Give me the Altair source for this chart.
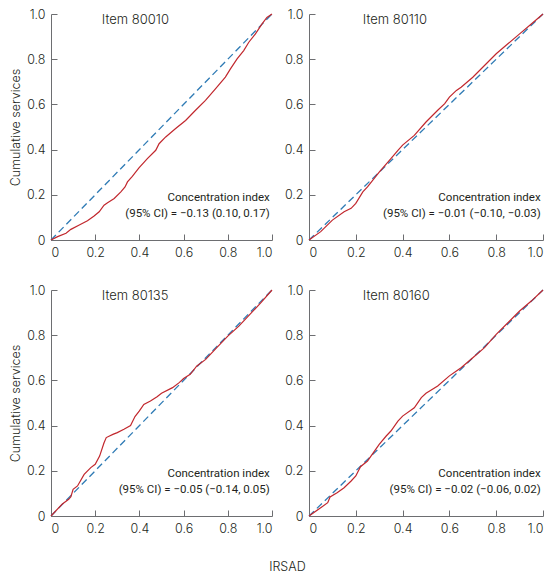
import altair as alt
import pandas as pd

# ---------------- data ----------------
TICKS = [0, 0.2, 0.4, 0.6, 0.8, 1.0]

x_80010 = [0, 0.03, 0.068, 0.09, 0.128, 0.165, 0.195, 0.218, 0.24, 0.256, 0.286, 0.316,
           0.335, 0.346, 0.368, 0.398, 0.436, 0.474, 0.489, 0.519, 0.564, 0.609, 0.654,
           0.699, 0.744, 0.789, 0.812, 0.842, 0.872, 0.895, 0.925, 0.955, 0.977, 1.0]
y_80010 = [0, 0.015, 0.03, 0.047, 0.066, 0.085, 0.106, 0.125, 0.154, 0.165, 0.184, 0.213,
           0.235, 0.257, 0.282, 0.319, 0.36, 0.397, 0.426, 0.456, 0.493, 0.529, 0.574,
           0.618, 0.669, 0.721, 0.757, 0.801, 0.838, 0.875, 0.912, 0.956, 0.985, 1.0]

x_80110 = [0, 0.05, 0.1, 0.15, 0.18, 0.2, 0.23, 0.25, 0.3, 0.35, 0.38, 0.4, 0.45, 0.5,
           0.55, 0.58, 0.6, 0.63, 0.65, 0.7, 0.75, 0.8, 0.85, 0.9, 0.95, 1.0]
y_80110 = [0, 0.037, 0.088, 0.125, 0.14, 0.162, 0.213, 0.235, 0.30, 0.36, 0.397, 0.42,
           0.463, 0.522, 0.574, 0.603, 0.632, 0.662, 0.676, 0.72, 0.772, 0.824, 0.868,
           0.912, 0.956, 1.0]

x_80135 = [0, 0.05, 0.08, 0.09, 0.1, 0.12, 0.15, 0.18, 0.2, 0.22, 0.24, 0.25, 0.28, 0.3,
           0.33, 0.36, 0.38, 0.4, 0.42, 0.45, 0.48, 0.5, 0.55, 0.58, 0.6, 0.63, 0.66,
           0.7, 0.75, 0.8, 0.85, 0.9, 0.95, 1.0]
y_80135 = [0, 0.052, 0.074, 0.085, 0.118, 0.133, 0.184, 0.214, 0.229, 0.265, 0.324,
           0.347, 0.361, 0.369, 0.384, 0.40, 0.44, 0.465, 0.494, 0.509, 0.528, 0.543,
           0.568, 0.59, 0.608, 0.627, 0.664, 0.693, 0.745, 0.796, 0.84, 0.892, 0.944, 1.0]

x_80160 = [0, 0.05, 0.08, 0.09, 0.12, 0.15, 0.18, 0.2, 0.22, 0.25, 0.27, 0.3, 0.33, 0.35,
           0.38, 0.4, 0.45, 0.48, 0.5, 0.55, 0.6, 0.63, 0.65, 0.7, 0.75, 0.8, 0.85, 0.9,
           0.95, 1.0]
y_80160 = [0, 0.037, 0.059, 0.084, 0.103, 0.125, 0.155, 0.177, 0.218, 0.243, 0.273,
           0.317, 0.354, 0.376, 0.42, 0.442, 0.479, 0.524, 0.543, 0.575, 0.62, 0.642,
           0.656, 0.70, 0.745, 0.804, 0.855, 0.907, 0.951, 1.0]

items = ["Item 80010", "Item 80110", "Item 80135", "Item 80160"]
ci_texts = ["(95% CI) = \u22120.13 (0.10, 0.17)",
            "(95% CI) = \u22120.01 (\u22120.10, \u22120.03)",
            "(95% CI) = \u22120.05 (\u22120.14, 0.05)",
            "(95% CI) = \u22120.02 (\u22120.06, 0.02)"]
ci_head = "Concentration index"
diag_x = [0, 1]
diag_y = [0, 1]

# ---------------- style ----------------
RED = "#c1272d"
BLUE = "#2f7bb5"
AX = "#6d6e71"
TXT = "#231f20"
FONT = "Inter"
NARROW = "Liberation Sans Narrow, Roboto, sans-serif"
LABEL_EXPR = "datum.value == 0 ? '0' : format(datum.value, '.1f')"


def label_axis(orient, title=None):
    kw = dict(values=TICKS, labelExpr=LABEL_EXPR, ticks=False, domain=True,
              domainColor=AX, domainWidth=1, grid=False, labelFont=FONT,
              labelFontSize=12.5, labelFontWeight=300, labelColor=TXT, labelPadding=6,
              orient=orient, title=title)
    if title:
        kw.update(titleFont=FONT, titleFontSize=12.5, titleFontWeight=300,
                  titleColor=TXT, titlePadding=4)
    return alt.Axis(**kw)


def tick_axis(orient):
    return alt.Axis(values=TICKS, labels=False, domain=False, grid=False, ticks=True,
                    tickSize=6, tickColor=AX, tickWidth=1, offset=-6, orient=orient,
                    title=None)


def panel(i, xs, ys, w, h, ytitle):
    sc = alt.Scale(domain=[0, 1], nice=False)
    cur = pd.DataFrame({"x": xs, "y": ys})
    dg = pd.DataFrame({"x": diag_x, "y": diag_y})
    diag = alt.Chart(dg).mark_line(color=BLUE, strokeWidth=1.3, strokeDash=[7, 4]).encode(
        x=alt.X("x:Q", scale=sc, axis=label_axis("bottom")),
        y=alt.Y("y:Q", scale=sc, axis=label_axis("left", ytitle)),
    )
    curve = alt.Chart(cur).mark_line(color=RED, strokeWidth=1.2).encode(
        x=alt.X("x:Q", scale=sc, axis=tick_axis("bottom")),
        y=alt.Y("y:Q", scale=sc, axis=tick_axis("left")),
    )
    lab = pd.DataFrame({"x": [0.23], "y": [0.975], "t": [items[i]]})
    item = alt.Chart(lab).mark_text(align="left", baseline="middle", font=FONT,
                                    fontSize=13, fontWeight=300, color=TXT).encode(
        x=alt.X("x:Q", scale=sc, axis=None), y=alt.Y("y:Q", scale=sc, axis=None), text="t:N")
    ann = pd.DataFrame({"x": [0.99, 0.99], "y": [0.185, 0.115], "t": [ci_head, ci_texts[i]]})
    note = alt.Chart(ann).mark_text(align="right", baseline="middle", font=NARROW,
                                    fontSize=11.5, color=TXT).encode(
        x=alt.X("x:Q", scale=sc, axis=None), y=alt.Y("y:Q", scale=sc, axis=None), text="t:N")
    return alt.layer(diag, curve, item, note).resolve_axis(
        x="independent", y="independent").properties(width=w, height=h)


WL, WR, H = 221, 234, 226
p1 = panel(0, x_80010, y_80010, WL, H, "Cumulative services")
p2 = panel(1, x_80110, y_80110, WR, H, None)
p3 = panel(2, x_80135, y_80135, WL, H, "Cumulative services")
p4 = panel(3, x_80160, y_80160, WR, H, None)

row1 = alt.hconcat(p1, p2, spacing=9)
row2 = alt.hconcat(p3, p4, spacing=9)

chart = alt.vconcat(row1, row2, spacing=25).properties(
    title=alt.TitleParams("IRSAD", orient="bottom", anchor="middle", font=FONT,
                          fontSize=12.5, fontWeight=300, color=TXT, offset=26, dx=10),
    padding={"left": 1, "top": 0, "right": 0, "bottom": 0},
).configure_view(stroke=None)

chart.save("out.html", embed_options={"renderer": "svg", "actions": False})
